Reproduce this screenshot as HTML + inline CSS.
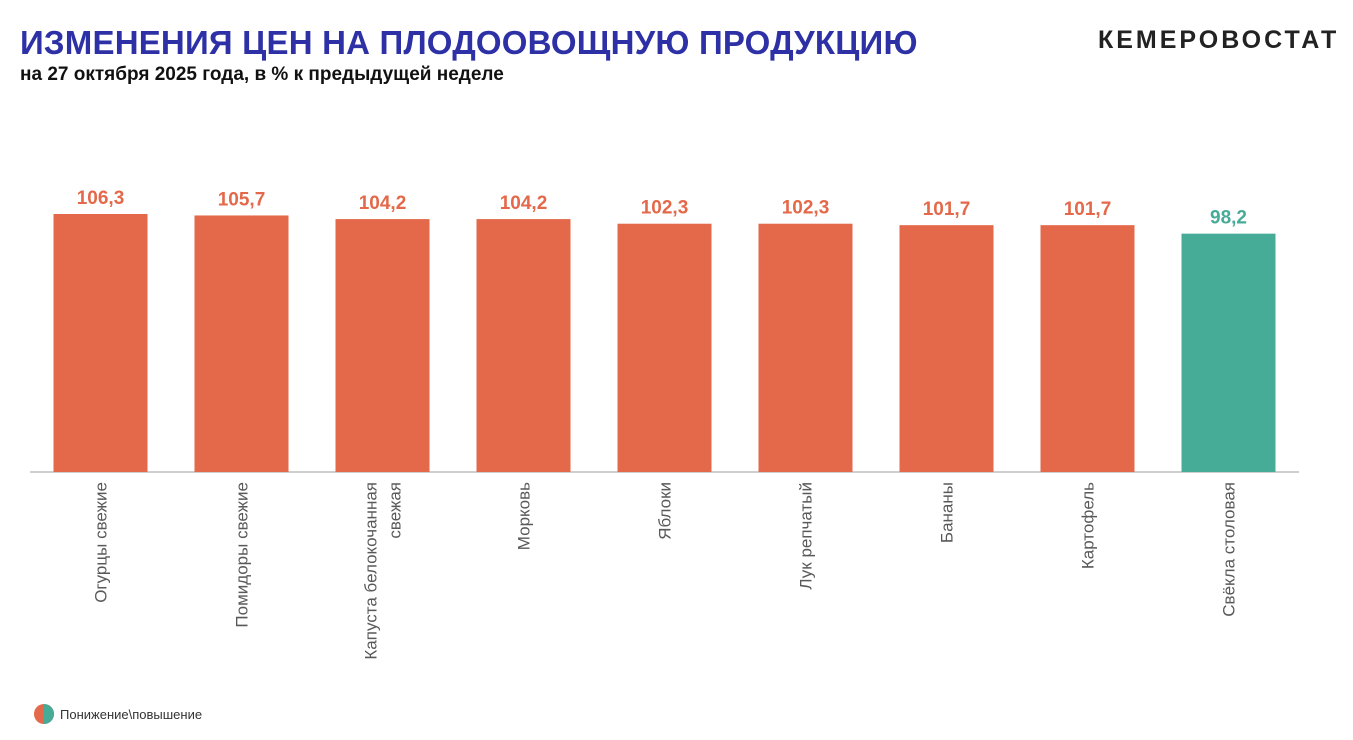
<!DOCTYPE html>
<html><head><meta charset="utf-8"><style>
body{margin:0;width:1353px;height:740px;background:#fff;font-family:"Liberation Sans",sans-serif;overflow:hidden;position:relative}
#title{position:absolute;left:20px;top:24px;font-size:33px;font-weight:bold;color:#2e31a6;letter-spacing:0.2px}
#sub{position:absolute;left:20px;top:64px;font-size:19px;font-weight:bold;color:#111}
#logo{position:absolute;left:1098px;top:26px;font-size:25px;font-weight:bold;color:#222;letter-spacing:3px}
</style></head><body>
<div id="title">ИЗМЕНЕНИЯ ЦЕН НА ПЛОДООВОЩНУЮ ПРОДУКЦИЮ</div>
<div id="sub">на 27 октября 2025 года, в % к предыдущей неделе</div>
<div id="logo">КЕМЕРОВОСТАТ</div>
<svg id="chart" width="1353" height="740" style="position:absolute;left:0;top:0">
<circle cx="44" cy="714" r="10" fill="#e3694a"/>
<path d="M44 704 A10 10 0 0 1 44 724 Z" fill="#46ab97"/>
<text x="60" y="719" font-size="13" fill="#333" font-family="Liberation Sans">Понижение\повышение</text>
</svg>
<script>
const categories=["Огурцы свежие","Помидоры свежие","Капуста белокочанная|свежая","Морковь","Яблоки","Лук репчатый","Бананы","Картофель","Свёкла столовая"];
const values=[106.3,105.7,104.2,104.2,102.3,102.3,101.7,101.7,98.2];
const labels=["106,3","105,7","104,2","104,2","102,3","102,3","101,7","101,7","98,2"];
const svg=document.getElementById('chart');
const NS="http://www.w3.org/2000/svg";
const base=472, x0=30, step=141, bw=94;
function y(v){return base-v*(258/106.3);}
function xc(i){return x0+step*(i+0.5);}
const ax=document.createElementNS(NS,'line');
ax.setAttribute('x1',30);ax.setAttribute('x2',1299);ax.setAttribute('y1',base);ax.setAttribute('y2',base);
ax.setAttribute('stroke','#bfbfbf');ax.setAttribute('stroke-width','1.5');


svg.appendChild(ax);
values.forEach((v,i)=>{
  const col=v>=100?'#e3694a':'#46ab97';
  const r=document.createElementNS(NS,'rect');
  r.setAttribute('x',xc(i)-bw/2);r.setAttribute('width',bw);
  r.setAttribute('y',y(v));r.setAttribute('height',base-y(v));r.setAttribute('fill',col);
  
  
  svg.appendChild(r);
  const t=document.createElementNS(NS,'text');
  t.setAttribute('x',xc(i));t.setAttribute('y',y(v)-10);t.setAttribute('text-anchor','middle');
  t.setAttribute('font-size','19');t.setAttribute('font-weight','bold');t.setAttribute('fill',col);
  t.setAttribute('font-family','Liberation Sans');
  t.textContent=labels[i];
  
  
  svg.appendChild(t);
  const lines=categories[i].split('|');
  const g=document.createElementNS(NS,'text');
  g.setAttribute('transform','translate('+xc(i)+','+(base+10)+') rotate(-90)');
  g.setAttribute('text-anchor','end');g.setAttribute('font-size','17');g.setAttribute('fill','#595959');
  g.setAttribute('font-family','Liberation Sans');
  
  
  lines.forEach((l,k)=>{
    const s=document.createElementNS(NS,'tspan');
    s.setAttribute('x',0);
    s.setAttribute('y',(k-(lines.length-1)/2)*24+6);
    s.textContent=l;g.appendChild(s);
  });
  svg.appendChild(g);
});
</script>
</body></html>
